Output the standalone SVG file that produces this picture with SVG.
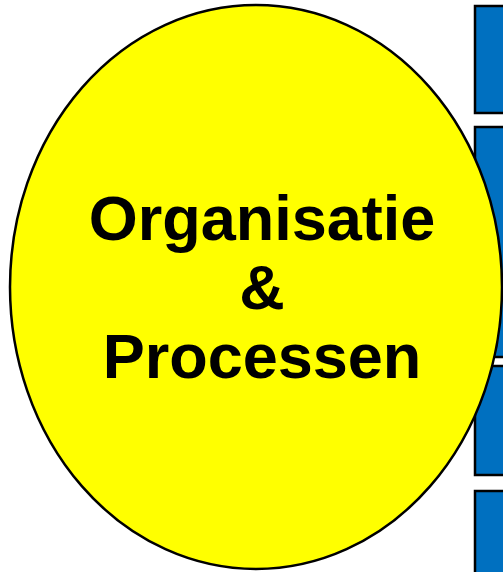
<svg xmlns="http://www.w3.org/2000/svg" width="503" height="572" viewBox="0 0 503 572">
<style>
.box{fill:#0070C0;stroke:#000;stroke-width:2.5}
.main{fill:#FFFF00;stroke:#000;stroke-width:2.5}
.lbl{font-family:"Liberation Sans",Arial,sans-serif;font-weight:bold;font-size:63px;fill:#000;text-anchor:middle}
</style>
<rect width="503" height="572" fill="#fff"/>
<g id="box1"><rect class="box" x="475" y="6" width="60" height="107"/></g>
<g id="box2"><rect class="box" x="475" y="127" width="60" height="230"/></g>
<g id="box3"><rect class="box" x="475" y="366" width="60" height="109"/></g>
<g id="box4"><rect class="box" x="475" y="491" width="60" height="100"/></g>
<g id="connectors"></g>
<g id="organisatie">
<ellipse class="main" cx="256" cy="287" rx="246" ry="282"/>
<text class="lbl" x="262" y="240">Organisatie</text>
<text class="lbl" x="262" y="309">&amp;</text>
<text class="lbl" x="262" y="378">Processen</text>
</g>
</svg>
